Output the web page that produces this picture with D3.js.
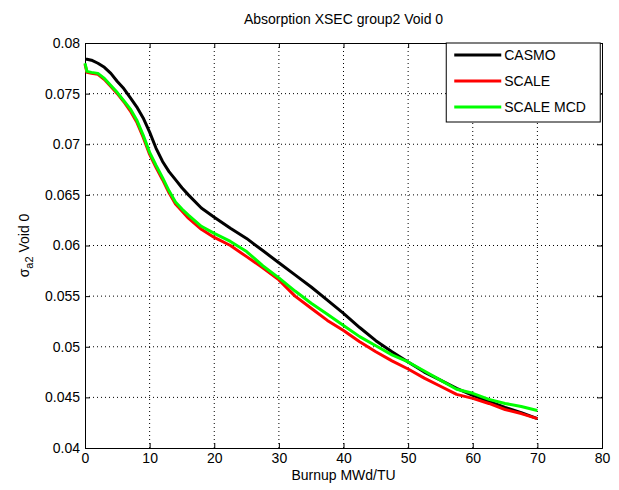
<!DOCTYPE html>
<html>
<head>
<meta charset="utf-8">
<script src="https://cdn.jsdelivr.net/npm/d3@7"></script>
<style>
  body { margin: 0; background: #fff; }
  svg text { font-family: "Liberation Sans", Arial, sans-serif; fill: #000; }
</style>
</head>
<body>
<div id="chart"></div>
<script>
const svgWidth = 619
const svgHeight = 490

let margin = { top: 43, right: 17, bottom: 42, left: 85 }
let width = svgWidth - margin.left - margin.right
let height = svgHeight - margin.top - margin.bottom

// burnup points (MWd/TU)
const burnup = [0, 0.3, 1, 2, 3, 4, 5, 6, 7, 8, 9, 10, 11, 12, 13, 14, 15, 16, 18, 20,
  22.5, 25, 27.5, 30, 32.5, 35, 37.5, 40, 42.5, 45, 47.5, 50, 52.5, 55, 57.5, 60,
  62.5, 65, 67.5, 70]

const casmo = [0.0784, 0.0784, 0.0783, 0.0780, 0.0776, 0.0770, 0.0762, 0.0755, 0.0746, 0.0737,
  0.0726, 0.0712, 0.0696, 0.0683, 0.0673, 0.0665, 0.0657, 0.0650, 0.0637, 0.0628,
  0.0617, 0.0607, 0.0595, 0.0583, 0.0571, 0.0559, 0.0546, 0.0533, 0.0519, 0.0506,
  0.0495, 0.0485, 0.0475, 0.0467, 0.0459, 0.0452, 0.0446, 0.0440, 0.0435, 0.0429]

const scale = [0.0779, 0.0771, 0.0770, 0.0769, 0.0764, 0.0757, 0.0750, 0.0742, 0.0733, 0.0722,
  0.0707, 0.0690, 0.0677, 0.0665, 0.0652, 0.0641, 0.0634, 0.0627, 0.0616, 0.0608,
  0.0600, 0.0589, 0.0578, 0.0566, 0.0550, 0.0538, 0.0526, 0.0516, 0.0505, 0.0495,
  0.0486, 0.0478, 0.0469, 0.0461, 0.0453, 0.0449, 0.0444, 0.0438, 0.0434, 0.0429]

const scaleMcd = [0.0780, 0.0772, 0.0771, 0.0770, 0.0765, 0.0758, 0.0751, 0.0743, 0.0735, 0.0724,
  0.0709, 0.0692, 0.0679, 0.0667, 0.0654, 0.0643, 0.0636, 0.0630, 0.0619, 0.0612,
  0.0604, 0.0594, 0.0580, 0.0568, 0.0555, 0.0543, 0.0532, 0.0521, 0.0510, 0.0501,
  0.0492, 0.0485, 0.0476, 0.0467, 0.0458, 0.0454, 0.0448, 0.0444, 0.0441, 0.0437]

const seriesNames = ["CASMO", "SCALE", "SCALE MCD"]
const seriesColors = ["#000000", "#ff0000", "#00ff00"]
const xTicks = [0, 10, 20, 30, 40, 50, 60, 70, 80]
const yTicks = [0.04, 0.045, 0.05, 0.055, 0.06, 0.065, 0.07, 0.075, 0.08]

let svg = d3.select("#chart")
  .append("svg")
  .attr("width", svgWidth)
  .attr("height", svgHeight)

svg.append("rect").attr("width", svgWidth).attr("height", svgHeight).attr("fill", "#fff")

let chartGroup = svg.append("g")
  .attr("transform", `translate(${margin.left}, ${margin.top})`)

let x = d3.scaleLinear().domain([0, 80]).range([0, width])
let y = d3.scaleLinear().domain([0.04, 0.08]).range([height, 0])

// dotted grid
chartGroup.append("g")
  .selectAll("line")
  .data(xTicks.slice(1, -1))
  .enter()
  .append("line")
  .attr("x1", d => x(d)).attr("x2", d => x(d))
  .attr("y1", 0).attr("y2", height)
  .attr("stroke", "#000")
  .attr("stroke-dasharray", "1,3")

chartGroup.append("g")
  .selectAll("line")
  .data(yTicks.slice(1, -1))
  .enter()
  .append("line")
  .attr("y1", d => y(d)).attr("y2", d => y(d))
  .attr("x1", 0).attr("x2", width)
  .attr("stroke", "#000")
  .attr("stroke-dasharray", "1,3")

// axes, ticks pointing inwards like matlab
let bottomAxis = d3.axisBottom(x).tickValues(xTicks).tickSize(-5).tickPadding(5).tickFormat(d3.format("d"))
let leftAxis = d3.axisLeft(y).tickValues(yTicks).tickSize(-5).tickPadding(5).tickFormat(d => String(+d.toFixed(3)))
let topAxis = d3.axisTop(x).tickValues(xTicks).tickSize(-5).tickFormat("")
let rightAxis = d3.axisRight(y).tickValues(yTicks).tickSize(-5).tickFormat("")

chartGroup.append("g").attr("transform", `translate(0, ${height})`).call(bottomAxis)
chartGroup.append("g").call(leftAxis)
chartGroup.append("g").call(topAxis)
chartGroup.append("g").attr("transform", `translate(${width}, 0)`).call(rightAxis)

chartGroup.selectAll(".domain").attr("stroke", "#000")
chartGroup.selectAll(".tick line").attr("stroke", "#000")
chartGroup.selectAll(".tick text").attr("font-size", "14px").attr("font-family", "Liberation Sans, Arial, sans-serif")

// lines
const allSeries = [casmo, scale, scaleMcd]
let line = d3.line()
  .x((d, i) => x(burnup[i]))
  .y(d => y(d))

allSeries.forEach((vals, k) => {
  chartGroup.append("path")
    .datum(vals)
    .attr("d", line)
    .attr("fill", "none")
    .attr("stroke", seriesColors[k])
    .attr("stroke-width", 3)
    .attr("stroke-linejoin", "round")
})

// legend
let legend = chartGroup.append("g")
  .attr("transform", `translate(${x(55.9)}, 0)`)

legend.append("rect")
  .attr("width", 154).attr("height", 79)
  .attr("fill", "#fff")
  .attr("stroke", "#000")

seriesNames.forEach((name, k) => {
  let yy = 12 + k * 26
  legend.append("line")
    .attr("x1", 8).attr("x2", 55)
    .attr("y1", yy).attr("y2", yy)
    .attr("stroke", seriesColors[k])
    .attr("stroke-width", 3)
  legend.append("text")
    .attr("x", 58).attr("y", yy)
    .attr("dy", "0.35em")
    .attr("font-size", "14px")
    .text(name)
})

// title and axis labels
svg.append("text")
  .attr("x", margin.left + width / 2)
  .attr("y", 24)
  .attr("text-anchor", "middle")
  .attr("font-size", "14px")
  .text("Absorption XSEC group2 Void 0")

svg.append("text")
  .attr("x", margin.left + width / 2)
  .attr("y", 480)
  .attr("text-anchor", "middle")
  .attr("font-size", "14px")
  .text("Burnup MWd/TU")

let yLabel = svg.append("text")
  .attr("transform", `translate(29, ${margin.top + height / 2}) rotate(-90)`)
  .attr("text-anchor", "middle")
  .attr("font-size", "14px")
yLabel.append("tspan").text("σ")
yLabel.append("tspan").attr("font-size", "11px").attr("dy", "4").text("a2")
yLabel.append("tspan").attr("dy", "-4").text(" Void 0")
</script>
</body>
</html>
